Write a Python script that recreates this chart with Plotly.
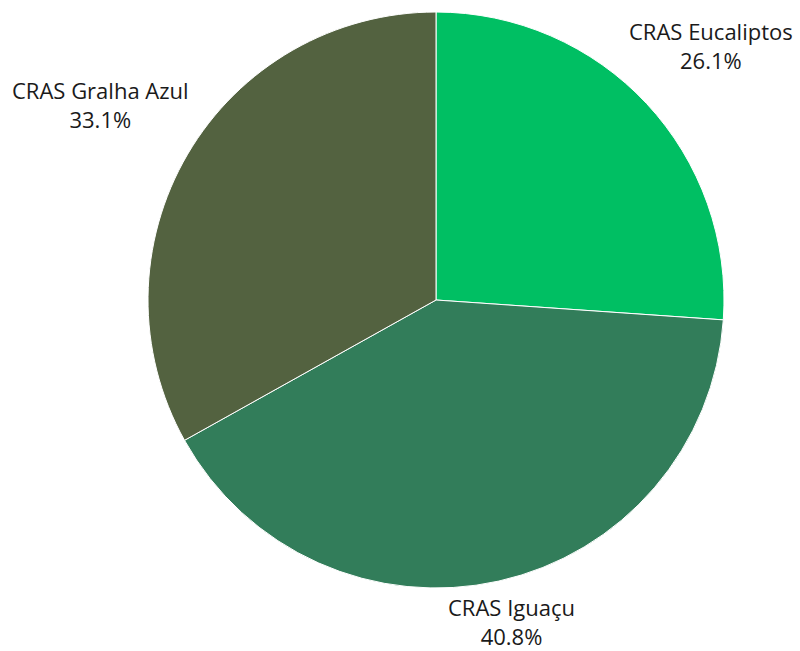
import plotly.graph_objects as go

labels = ["CRAS Eucaliptos", "CRAS Iguaçu", "CRAS Gralha Azul"]
values = [26.1, 40.8, 33.1]
colors = ["#00BF63", "#327D5A", "#536240"]

W, H = 800, 651

fig = go.Figure(go.Pie(
    labels=labels,
    values=values,
    sort=False,
    direction="clockwise",
    rotation=0,
    marker=dict(colors=colors, line=dict(color="white", width=1)),
    textposition="none",
    showlegend=False,
    hoverinfo="label+percent",
    domain=dict(x=[147 / W, 725 / W], y=[1 - 588 / H, 1 - 12 / H]),
))

# label placement (pixel centre of each two-line label)
label_pos = {
    "CRAS Eucaliptos": (711, 45),
    "CRAS Iguaçu": (511, 621),
    "CRAS Gralha Azul": (100, 104),
}
total = sum(values)
annotations = []
for lab, val in zip(labels, values):
    x, y = label_pos[lab]
    pct = f"{100 * val / total:.1f}%"
    annotations.append(dict(
        text=f"{lab}<br>{pct}", x=x / W, y=1 - y / H, xref="paper", yref="paper",
        xanchor="center", yanchor="middle", showarrow=False, align="center",
        font=dict(family="Open Sans", size=22, color="#1a1a1a"),
    ))

fig.update_layout(
    width=W, height=H,
    margin=dict(l=0, r=0, t=0, b=0),
    paper_bgcolor="white",
    plot_bgcolor="white",
    font=dict(family="Open Sans"),
    annotations=annotations,
)

fig.write_html("out.html", config={"displayModeBar": False},
               post_script="document.body.style.margin='0';")
